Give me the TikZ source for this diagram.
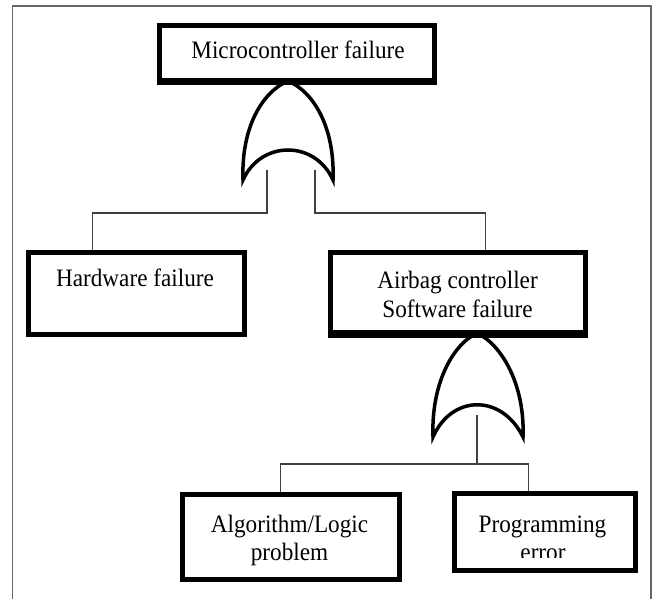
\documentclass[tikz,border=0pt]{standalone}
\usepackage{graphicx}
\usepackage{fontspec}
\setmainfont{Liberation Serif}
\newcommand{\tallt}[1]{\scalebox{1}[1.08]{#1}}
\begin{document}
\begin{tikzpicture}[x=1pt,y=-1pt,
  evbox/.style={draw, line width=5pt, inner sep=0pt},
  lbl/.style={font=\fontsize{23.2}{28}\selectfont, inner sep=0pt, anchor=base},
  gate/.style={draw, line width=3.5pt, fill=white, line join=miter},
  wire/.style={draw, line width=1.3pt, color=black!75},
  frame/.style={draw, line width=1.5pt, color=black!60}]
\useasboundingbox (0,0) rectangle (655,599);
\fill[white] (0,0) rectangle (655,599);
% outer frame
\draw[frame] (12.5,599) -- (12.5,6) -- (651,6) -- (651,599);

% boxes
\node[evbox, minimum width=275pt, minimum height=55pt] (top) at (297,53) {};
\node[evbox, minimum width=216pt, minimum height=82pt] (hw) at (136.5,293.5) {};
\node[evbox, minimum width=255pt, minimum height=80pt] (ab) at (458,292.5) {};
\node[evbox, minimum width=217pt, minimum height=85pt] (alg) at (291,537) {};
\node[evbox, minimum width=181pt, minimum height=77pt] (prog) at (545,532) {};

% labels
\node[lbl] (ttop) at (298,59) {\tallt{Microcontroller failure}};
\node[lbl] (thw) at (135,286) {\tallt{Hardware failure}};
\node[lbl] (tab1) at (457.5,288) {\tallt{Airbag controller}};
\node[lbl] (tab2) at (457.5,317) {\tallt{Software failure}};
\node[lbl] (talg1) at (289.5,532) {\tallt{Algorithm/Logic}};
\node[lbl] (talg2) at (289.5,560) {\tallt{problem}};
\node[lbl] (tprog) at (542.5,532) {\tallt{Programming}};
\begin{scope}
  \clip (456,540) rectangle (634,557);
  \node[lbl] (terr) at (543,560) {\tallt{error}};
\end{scope}

% gate coordinates
\coordinate (g1a) at (267,170);
\coordinate (g1b) at (315,170);
\coordinate (j1) at (267,213);
\coordinate (j2) at (315,213);
\coordinate (g2o) at (477,415);
\coordinate (j3) at (477,464);

% wires
\draw[wire] (g1a) -- (j1) -| ([xshift=66.5pt]hw.north west);
\draw[wire] (g1b) -- (j2) -| ([xshift=157.5pt]ab.north west);
\draw[wire] (g2o) -- (j3);
\draw[wire] ([xshift=100.5pt]alg.north west) |- (j3) -| ([xshift=76.5pt]prog.north west);

% OR gates
\draw[gate] (288,81) .. controls (262,92) and (241,128) .. (243,180)
  .. controls (261,140) and (315,140) .. (333,180)
  .. controls (335,128) and (314,92) .. cycle;
\draw[gate] (477,333) .. controls (452,345) and (431,385) .. (433,437)
  .. controls (452,394) and (502,394) .. (523,437)
  .. controls (525,385) and (502,345) .. cycle;

% redraw box borders over gate apexes
\draw[line width=5pt] (top.south west) -- (top.south east);
\draw[line width=5pt] (ab.south west) -- (ab.south east);
\end{tikzpicture}
\end{document}
